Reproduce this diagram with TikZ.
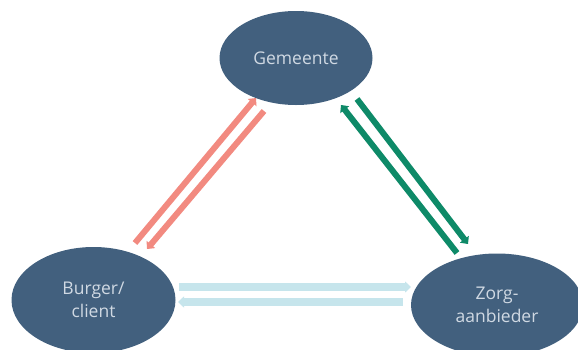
\documentclass[tikz,border=0pt]{standalone}
\usepackage{fontspec}
\setmainfont{Open Sans}
\usetikzlibrary{shapes.geometric,arrows.meta}
\definecolor{ellfill}{HTML}{42607E}
\definecolor{elltext}{HTML}{D0D9E3}
\definecolor{redarr}{HTML}{F28A80}
\definecolor{greenarr}{HTML}{0E8A68}
\definecolor{bluearr}{HTML}{C6E5EC}
\tikzset{
  party/.style={ellipse, fill=ellfill, text=elltext, align=center, inner sep=0pt,
    font=\fontsize{17.5}{23.5}\selectfont},
  flow/.style={line width=#1, -{Triangle[length=6pt,width=11pt]}},
}
\begin{document}
\begin{tikzpicture}[x=1pt,y=-1pt]
\useasboundingbox (0,0) rectangle (578,349);
\clip (0,0) rectangle (578,349);
\node[party, minimum width=153pt, minimum height=94pt] (gem) at (296,58) {Gemeente};
\node[party, minimum width=164pt, minimum height=106pt] (bur) at (93.5,300) {Burger/\\client};
\node[party, minimum width=172pt, minimum height=103pt] (zorg) at (497,305) {Zorg-\\aanbieder};
% red pair
\coordinate (r1s) at (135,243); \coordinate (r1e) at (256,98);
\coordinate (r2s) at (264,111); \coordinate (r2e) at (147,249);
\draw[flow=6pt, redarr] (r1s) -- (r1e);
\draw[flow=6pt, redarr] (r2s) -- (r2e);
% green pair
\coordinate (g1s) at (457,253); \coordinate (g1e) at (341,105);
\coordinate (g2s) at (357,99); \coordinate (g2e) at (468,244);
\draw[flow=6pt, greenarr] (g1s) -- (g1e);
\draw[flow=6pt, greenarr] (g2s) -- (g2e);
% blue pair
\coordinate (b1s) at (179,287); \coordinate (b1e) at (411,287);
\coordinate (b2s) at (403,302); \coordinate (b2e) at (178,302);
\draw[flow=8pt, bluearr] (b1s) -- (b1e);
\draw[flow=8pt, bluearr] (b2s) -- (b2e);
\end{tikzpicture}
\end{document}
